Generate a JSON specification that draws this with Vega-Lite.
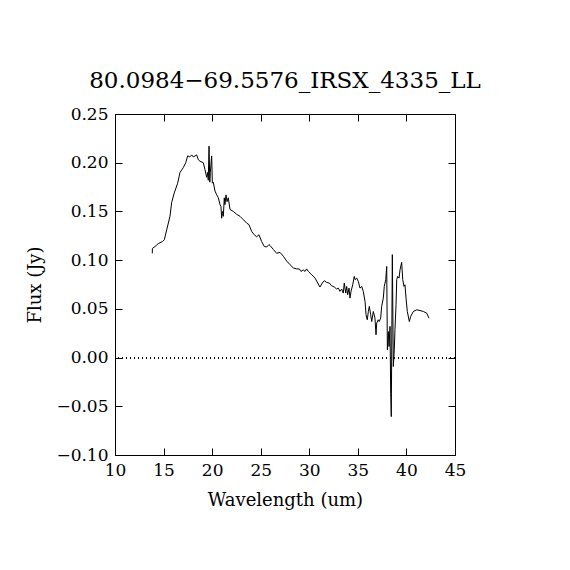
{
  "$schema": "https://vega.github.io/schema/vega-lite/v6.json",
  "width": 340,
  "height": 341,
  "autosize": "none",
  "padding": {"left": 115, "top": 114, "right": 115, "bottom": 115},
  "background": "white",
  "title": {
    "text": "80.0984−69.5576_IRSX_4335_LL",
    "font": "DejaVu Serif",
    "fontSize": 23,
    "fontWeight": "normal",
    "color": "black",
    "anchor": "middle",
    "baseline": "alphabetic",
    "offset": 23,
    "dy": 29
  },
  "data": {
    "values": [
      {"wave": 13.84, "flux": 0.107}, {"wave": 13.85, "flux": 0.112}, {"wave": 14.12, "flux": 0.114},
      {"wave": 14.46, "flux": 0.117}, {"wave": 14.87, "flux": 0.119}, {"wave": 15.08, "flux": 0.121},
      {"wave": 15.32, "flux": 0.131}, {"wave": 15.66, "flux": 0.145}, {"wave": 15.83, "flux": 0.159},
      {"wave": 16.1, "flux": 0.169}, {"wave": 16.45, "flux": 0.179}, {"wave": 16.69, "flux": 0.19},
      {"wave": 17.03, "flux": 0.195}, {"wave": 17.28, "flux": 0.2}, {"wave": 17.48, "flux": 0.207},
      {"wave": 17.7, "flux": 0.206}, {"wave": 17.9, "flux": 0.208}, {"wave": 18.05, "flux": 0.206},
      {"wave": 18.24, "flux": 0.207}, {"wave": 18.41, "flux": 0.208}, {"wave": 18.58, "flux": 0.203},
      {"wave": 18.75, "flux": 0.2015}, {"wave": 19.09, "flux": 0.2}, {"wave": 19.26, "flux": 0.193},
      {"wave": 19.44, "flux": 0.185}, {"wave": 19.54, "flux": 0.19}, {"wave": 19.6, "flux": 0.182},
      {"wave": 19.68, "flux": 0.217}, {"wave": 19.76, "flux": 0.18}, {"wave": 19.81, "flux": 0.19},
      {"wave": 19.95, "flux": 0.207}, {"wave": 20.02, "flux": 0.179}, {"wave": 20.12, "flux": 0.18},
      {"wave": 20.29, "flux": 0.171}, {"wave": 20.47, "flux": 0.167}, {"wave": 20.64, "flux": 0.164},
      {"wave": 20.81, "flux": 0.157}, {"wave": 20.91, "flux": 0.155}, {"wave": 20.98, "flux": 0.143},
      {"wave": 21.05, "flux": 0.15}, {"wave": 21.09, "flux": 0.148}, {"wave": 21.15, "flux": 0.145},
      {"wave": 21.25, "flux": 0.164}, {"wave": 21.32, "flux": 0.157}, {"wave": 21.43, "flux": 0.167},
      {"wave": 21.53, "flux": 0.16}, {"wave": 21.66, "flux": 0.164}, {"wave": 21.84, "flux": 0.152},
      {"wave": 22.18, "flux": 0.15}, {"wave": 22.53, "flux": 0.147}, {"wave": 22.87, "flux": 0.145},
      {"wave": 23.21, "flux": 0.1416}, {"wave": 23.56, "flux": 0.138}, {"wave": 23.79, "flux": 0.1364},
      {"wave": 24.07, "flux": 0.1295}, {"wave": 24.34, "flux": 0.126}, {"wave": 24.58, "flux": 0.124},
      {"wave": 24.82, "flux": 0.126}, {"wave": 25.1, "flux": 0.119}, {"wave": 25.37, "flux": 0.114},
      {"wave": 25.62, "flux": 0.1135}, {"wave": 25.85, "flux": 0.116}, {"wave": 25.96, "flux": 0.115},
      {"wave": 26.3, "flux": 0.111}, {"wave": 26.64, "flux": 0.107}, {"wave": 26.99, "flux": 0.108},
      {"wave": 27.33, "flux": 0.104}, {"wave": 27.68, "flux": 0.099}, {"wave": 28.02, "flux": 0.0953},
      {"wave": 28.36, "flux": 0.092}, {"wave": 28.7, "flux": 0.091}, {"wave": 28.97, "flux": 0.091},
      {"wave": 29.15, "flux": 0.0884}, {"wave": 29.38, "flux": 0.09}, {"wave": 29.56, "flux": 0.0884},
      {"wave": 29.73, "flux": 0.091}, {"wave": 29.9, "flux": 0.0884}, {"wave": 30.25, "flux": 0.085},
      {"wave": 30.59, "flux": 0.0816}, {"wave": 30.87, "flux": 0.0765}, {"wave": 31.1, "flux": 0.0724},
      {"wave": 31.34, "flux": 0.0765}, {"wave": 31.55, "flux": 0.079}, {"wave": 31.79, "flux": 0.0771},
      {"wave": 32.06, "flux": 0.0765}, {"wave": 32.3, "flux": 0.0737}, {"wave": 32.58, "flux": 0.0724},
      {"wave": 32.82, "flux": 0.0703}, {"wave": 32.99, "flux": 0.0713}, {"wave": 33.16, "flux": 0.068},
      {"wave": 33.34, "flux": 0.0703}, {"wave": 33.5, "flux": 0.0662}, {"wave": 33.6, "flux": 0.0765},
      {"wave": 33.75, "flux": 0.0662}, {"wave": 33.85, "flux": 0.073}, {"wave": 33.95, "flux": 0.0645},
      {"wave": 34.09, "flux": 0.0713}, {"wave": 34.19, "flux": 0.061}, {"wave": 34.3, "flux": 0.068},
      {"wave": 34.47, "flux": 0.0747}, {"wave": 34.63, "flux": 0.0833}, {"wave": 34.71, "flux": 0.08},
      {"wave": 34.88, "flux": 0.0816}, {"wave": 35.05, "flux": 0.078}, {"wave": 35.22, "flux": 0.0713},
      {"wave": 35.4, "flux": 0.073}, {"wave": 35.56, "flux": 0.0678}, {"wave": 35.74, "flux": 0.0576},
      {"wave": 35.84, "flux": 0.044}, {"wave": 35.97, "flux": 0.0388}, {"wave": 36.08, "flux": 0.0473},
      {"wave": 36.18, "flux": 0.0525}, {"wave": 36.32, "flux": 0.044}, {"wave": 36.43, "flux": 0.037},
      {"wave": 36.59, "flux": 0.0473}, {"wave": 36.76, "flux": 0.0405}, {"wave": 36.87, "flux": 0.0234},
      {"wave": 36.94, "flux": 0.0354}, {"wave": 37.1, "flux": 0.0388}, {"wave": 37.2, "flux": 0.037},
      {"wave": 37.35, "flux": 0.0405}, {"wave": 37.45, "flux": 0.0525}, {"wave": 37.62, "flux": 0.061},
      {"wave": 37.72, "flux": 0.073}, {"wave": 37.87, "flux": 0.08}, {"wave": 37.97, "flux": 0.0935},
      {"wave": 38.04, "flux": 0.008}, {"wave": 38.14, "flux": 0.0267}, {"wave": 38.21, "flux": 0.0113},
      {"wave": 38.31, "flux": 0.032}, {"wave": 38.38, "flux": -0.0366}, {"wave": 38.44, "flux": -0.0606},
      {"wave": 38.55, "flux": 0.1056}, {"wave": 38.65, "flux": -0.0092}, {"wave": 38.75, "flux": 0.008},
      {"wave": 38.82, "flux": 0.0285}, {"wave": 38.93, "flux": 0.0542}, {"wave": 39.0, "flux": 0.08},
      {"wave": 39.1, "flux": 0.0833}, {"wave": 39.24, "flux": 0.0816}, {"wave": 39.34, "flux": 0.09},
      {"wave": 39.51, "flux": 0.0977}, {"wave": 39.62, "flux": 0.08}, {"wave": 39.75, "flux": 0.073},
      {"wave": 39.85, "flux": 0.0747}, {"wave": 39.96, "flux": 0.061}, {"wave": 40.09, "flux": 0.0473},
      {"wave": 40.3, "flux": 0.037}, {"wave": 40.44, "flux": 0.0422}, {"wave": 40.71, "flux": 0.0473},
      {"wave": 41.06, "flux": 0.049}, {"wave": 41.4, "flux": 0.0483}, {"wave": 41.74, "flux": 0.0473},
      {"wave": 42.09, "flux": 0.0456}, {"wave": 42.32, "flux": 0.0405}
    ]
  },
  "layer": [
    {
      "mark": {"type": "line", "color": "black", "strokeWidth": 1, "clip": true},
      "encoding": {
        "x": {
          "field": "wave",
          "type": "quantitative",
          "scale": {"domain": [10, 45], "nice": false, "zero": false},
          "axis": {
            "orient": "bottom",
            "values": [10, 15, 20, 25, 30, 35, 40, 45],
            "tickSize": -7,
            "labelPadding": 14,
            "labelFlush": false,
            "labelOverlap": false,
            "title": "Wavelength (um)",
            "titleY": 50,
            "titleBaseline": "alphabetic"
          }
        },
        "y": {
          "field": "flux",
          "type": "quantitative",
          "scale": {"domain": [-0.1, 0.25], "nice": false, "zero": false},
          "axis": {
            "orient": "left",
            "values": [-0.1, -0.05, 0, 0.05, 0.1, 0.15, 0.2, 0.25],
            "format": ".2f",
            "tickSize": -7,
            "labelPadding": 14,
            "labelFlush": false,
            "labelOverlap": false,
            "title": "Flux (Jy)",
            "titleX": -80,
            "titleAngle": -90,
            "titleBaseline": "middle"
          }
        }
      }
    },
    {
      "mark": {"type": "rule", "color": "black", "strokeWidth": 1, "strokeDash": [1, 3]},
      "encoding": {
        "y": {"datum": 0, "type": "quantitative", "axis": null}
      }
    },
    {
      "mark": {"type": "point", "opacity": 0},
      "encoding": {
        "x": {
          "field": "wave",
          "type": "quantitative",
          "axis": {
            "orient": "top",
            "values": [10, 15, 20, 25, 30, 35, 40, 45],
            "tickSize": -7,
            "labels": false,
            "title": null
          }
        },
        "y": {
          "field": "flux",
          "type": "quantitative",
          "axis": {
            "orient": "right",
            "values": [-0.1, -0.05, 0, 0.05, 0.1, 0.15, 0.2, 0.25],
            "tickSize": -7,
            "labels": false,
            "title": null
          }
        }
      }
    }
  ],
  "resolve": {"axis": {"x": "independent", "y": "independent"}},
  "config": {
    "view": {"stroke": "black", "strokeWidth": 1},
    "axis": {
      "domain": false,
      "grid": false,
      "tickColor": "black",
      "tickWidth": 1,
      "labelFont": "DejaVu Serif",
      "labelFontSize": 17,
      "labelColor": "black",
      "titleFont": "DejaVu Serif",
      "titleFontSize": 18,
      "titleFontWeight": "normal",
      "titleColor": "black"
    }
  }
}
